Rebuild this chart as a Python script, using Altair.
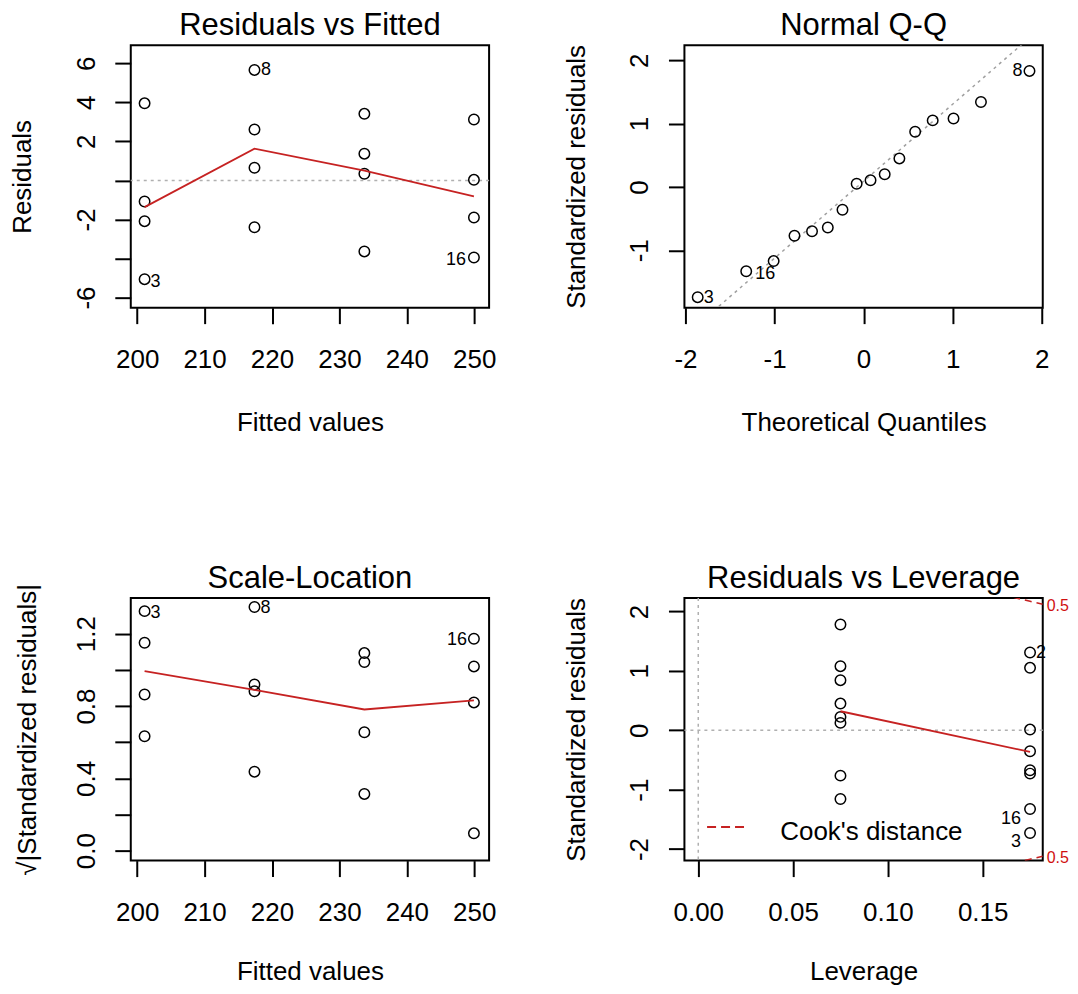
import altair as alt
import pandas as pd

FONT = "Liberation Sans"
W, H = 359, 263
RED = "#c62222"
GREY = "#b0b0b0"

# ---------------- data ----------------
# Residuals vs Fitted
rvf_fitted = [201.1, 201.1, 201.1, 201.1,
              217.4, 217.4, 217.4, 217.4,
              233.7, 233.7, 233.7, 233.7,
              249.95, 249.95, 249.95, 249.95]
rvf_resid = [3.95, -1.08, -2.09, -5.06,
             5.66, 2.61, 0.65, -2.40,
             3.41, 1.37, 0.34, -3.64,
             3.12, 0.03, -1.90, -3.95]
rvf_smooth_x = [201.1, 217.4, 233.7, 249.95]
rvf_smooth_y = [-1.37, 1.63, 0.50, -0.82]
rvf_label_idx = [3, 4, 15]
rvf_label_txt = ["3", "8", "16"]

# Normal Q-Q
qq_theoretical = [-1.863, -1.318, -1.010, -0.776, -0.579, -0.402, -0.237, -0.078,
                  0.078, 0.237, 0.402, 0.579, 0.776, 1.010, 1.318, 1.863]
qq_std_resid = [-1.74, -1.33, -1.17, -0.77, -0.70, -0.64, -0.36, 0.05,
                0.105, 0.20, 0.45, 0.87, 1.05, 1.08, 1.34, 1.83]
qq_line_x = [-2.1, 2.1]
qq_line_y = [-2.46, 2.64]
qq_label_idx = [0, 1, 15]
qq_label_txt = ["3", "16", "8"]

# Scale-Location
sl_fitted = rvf_fitted
sl_sqrt_std = [1.325, 1.150, 0.864, 0.633,
               1.348, 0.919, 0.882, 0.437,
               1.093, 1.043, 0.655, 0.314,
               1.172, 1.019, 0.820, 0.096]
sl_smooth_x = [201.1, 217.4, 233.7, 249.95]
sl_smooth_y = [0.993, 0.890, 0.781, 0.831]
sl_label_idx = [0, 4, 12]
sl_label_txt = ["3", "8", "16"]

# Residuals vs Leverage
lev_h = [0.075, 0.075, 0.075, 0.075, 0.075, 0.075, 0.075, 0.075,
         0.175, 0.175, 0.175, 0.175, 0.175, 0.175, 0.175, 0.175]
lev_std = [1.781, 1.079, 0.843, 0.449, 0.225, 0.124, -0.764, -1.157,
           1.309, 1.051, 0.011, -0.354, -0.674, -0.730, -1.326, -1.730]
lev_smooth_x = [0.075, 0.175]
lev_smooth_y = [0.32, -0.365]
lev_label_idx = [8, 14, 15]
lev_label_txt = ["2", "16", "3"]
cook_h = [0.160, 0.165, 0.170, 0.175, 0.1817]
cook_upper = [2.291, 2.250, 2.210, 2.171, 2.122]
cook_lower = [-2.291, -2.250, -2.210, -2.171, -2.122]
cook_level_label = "0.5"
legend_text = "Cook's distance"

panel_titles = ["Residuals vs Fitted", "Normal Q-Q", "Scale-Location", "Residuals vs Leverage"]

# ---------------- helpers ----------------
def xaxis(title, values, label_expr, title_y):
    return alt.Axis(title=title, values=values, labelExpr=label_expr,
                    domain=False, grid=False, ticks=True, tickSize=16, tickWidth=2,
                    tickColor="black", labelFont=FONT, labelFontSize=26, labelColor="black",
                    labelPadding=23, labelFlush=False, labelOverlap=False, labelAngle=0,
                    labelAlign="center", labelBaseline="top",
                    titleFont=FONT, titleFontSize=26, titleFontWeight="normal",
                    titleColor="black", titleX=W / 2, titleY=title_y, titleAlign="center",
                    titleBaseline="top", titleAngle=0)


def yaxis(title, values, label_expr, title_x=-108.5):
    return alt.Axis(title=title, values=values, labelExpr=label_expr,
                    domain=False, grid=False, ticks=True, tickSize=16, tickWidth=2,
                    tickColor="black", labelFont=FONT, labelFontSize=26, labelColor="black",
                    labelPadding=28.5, labelFlush=False, labelOverlap=False, labelAngle=270,
                    labelAlign="center", labelBaseline="middle",
                    titleFont=FONT, titleFontSize=26, titleFontWeight="normal",
                    titleColor="black", titleX=title_x, titleY=H / 2, titleAlign="center",
                    titleBaseline="middle", titleAngle=270)


def enc(xdom, ydom, xax, yax):
    return dict(
        x=alt.X("x:Q", scale=alt.Scale(domain=xdom, nice=False, zero=False), axis=xax),
        y=alt.Y("y:Q", scale=alt.Scale(domain=ydom, nice=False, zero=False), axis=yax),
    )


def title_mark(t):
    return alt.Chart(pd.DataFrame({"t": [t]})).mark_text(
        font=FONT, fontSize=31, color="black", align="center", baseline="alphabetic"
    ).encode(text="t:N", x=alt.value(W / 2), y=alt.value(-10.5))


def points(xs, ys, e):
    df = pd.DataFrame({"x": xs, "y": ys})
    return alt.Chart(df).mark_point(shape="circle", filled=False, size=110,
                                    strokeWidth=1.5, color="black", opacity=1).encode(**e)


def smooth(xs, ys, e):
    df = pd.DataFrame({"x": xs, "y": ys})
    return alt.Chart(df).mark_line(color=RED, strokeWidth=1.8).encode(**e)


def labels(xs, ys, idx, txt, styles, e):
    out = []
    for i, t, (dx, dy, align) in zip(idx, txt, styles):
        df = pd.DataFrame({"x": [xs[i]], "y": [ys[i]], "t": [t]})
        out.append(alt.Chart(df).mark_text(font=FONT, fontSize=18, color="black",
                                           align=align, baseline="middle", dx=dx, dy=dy)
                   .encode(text="t:N", **e))
    return out


def hline(e, val=0):
    return alt.Chart(pd.DataFrame({"y": [val]})).mark_rule(
        color=GREY, strokeWidth=1.5, strokeDash=[3, 4]).encode(y=e["y"])


def vline(e, val=0):
    return alt.Chart(pd.DataFrame({"x": [val]})).mark_rule(
        color=GREY, strokeWidth=1.5, strokeDash=[3, 4]).encode(x=e["x"])


to_str = "'' + datum.value"
TOP_TITLE_Y = 102.1
BOTTOM_TITLE_Y = 98.5

# ---------------- Panel 1: Residuals vs Fitted ----------------
e1 = enc([199.05, 252.2], [-6.52, 6.93],
         xaxis("Fitted values", [200, 210, 220, 230, 240, 250], to_str, TOP_TITLE_Y),
         yaxis("Residuals", [-6, -4, -2, 0, 2, 4, 6],
               "datum.value == 0 || datum.value == -4 ? '' : '' + datum.value"))
p1 = alt.layer(
    hline(e1),
    points(rvf_fitted, rvf_resid, e1),
    smooth(rvf_smooth_x, rvf_smooth_y, e1),
    *labels(rvf_fitted, rvf_resid, rvf_label_idx, rvf_label_txt,
            [(6, 3, "left"), (6.5, 0.5, "left"), (-8, 3, "right")], e1),
    title_mark(panel_titles[0]),
).properties(width=W, height=H)

# ---------------- Panel 2: Normal Q-Q ----------------
e2 = enc([-2.012, 2.012], [-1.905, 2.237],
         xaxis("Theoretical Quantiles", [-2, -1, 0, 1, 2], to_str, TOP_TITLE_Y),
         yaxis("Standardized residuals", [-1, 0, 1, 2], to_str))
qq_line = alt.Chart(pd.DataFrame({"x": qq_line_x, "y": qq_line_y})).mark_line(
    color="#a0a0a0", strokeWidth=1.5, strokeDash=[3, 4], clip=True).encode(**e2)
p2 = alt.layer(
    qq_line,
    points(qq_theoretical, qq_std_resid, e2),
    *labels(qq_theoretical, qq_std_resid, qq_label_idx, qq_label_txt,
            [(6, 0.5, "left"), (9, 3, "left"), (-7, 0, "right")], e2),
    title_mark(panel_titles[1]),
).properties(width=W, height=H)

# ---------------- Panel 3: Scale-Location ----------------
e3 = enc([199.05, 252.2], [-0.055, 1.397],
         xaxis("Fitted values", [200, 210, 220, 230, 240, 250], to_str, BOTTOM_TITLE_Y),
         yaxis("√|Standardized residuals|", [0, 0.2, 0.4, 0.6, 0.8, 1.0, 1.2],
               "datum.value == 0.2 || datum.value == 0.6 || datum.value == 1 ? '' : format(datum.value, '.1f')",
               title_x=-103.5))
p3 = alt.layer(
    points(sl_fitted, sl_sqrt_std, e3),
    smooth(sl_smooth_x, sl_smooth_y, e3),
    *labels(sl_fitted, sl_sqrt_std, sl_label_idx, sl_label_txt,
            [(6, 2, "left"), (6, 1, "left"), (-7, 1.5, "right")], e3),
    title_mark(panel_titles[2]),
).properties(width=W, height=H)

# ---------------- Panel 4: Residuals vs Leverage ----------------
e4 = enc([-0.0073, 0.1817], [-2.195, 2.225],
         xaxis("Leverage", [0, 0.05, 0.10, 0.15], "format(datum.value, '.2f')", BOTTOM_TITLE_Y),
         yaxis("Standardized residuals", [-2, -1, 0, 1, 2], to_str))
cook_df = pd.DataFrame({
    "x": cook_h + cook_h,
    "y": cook_upper + cook_lower,
    "side": ["upper"] * len(cook_h) + ["lower"] * len(cook_h),
})
cook = alt.Chart(cook_df).mark_line(color=RED, strokeWidth=1.6, strokeDash=[7, 5],
                                    clip=True).encode(detail="side:N", **e4)
cook_txt_df = pd.DataFrame({"x": [cook_h[-1], cook_h[-1]],
                            "y": [cook_upper[-1], cook_lower[-1]],
                            "t": [cook_level_label, cook_level_label]})
cook_txt = alt.Chart(cook_txt_df).mark_text(font=FONT, fontSize=16, color="#d01010",
                                            align="left", baseline="middle", dx=4,
                                            dy=2).encode(text="t:N", **e4)
legend_line = alt.Chart(pd.DataFrame({"k": [1]})).mark_rule(
    color=RED, strokeWidth=2, strokeDash=[9, 5]).encode(
    x=alt.value(22.7), x2=alt.value(64.3), y=alt.value(229.4))
legend_lab = alt.Chart(pd.DataFrame({"t": [legend_text]})).mark_text(
    font=FONT, fontSize=26, color="black", align="left", baseline="middle").encode(
    text="t:N", x=alt.value(96), y=alt.value(234))
p4 = alt.layer(
    hline(e4), vline(e4),
    points(lev_h, lev_std, e4),
    smooth(lev_smooth_x, lev_smooth_y, e4),
    cook, cook_txt, legend_line, legend_lab,
    *labels(lev_h, lev_std, lev_label_idx, lev_label_txt,
            [(6, 0.5, "left"), (-9, 10, "right"), (-9, 9.5, "right")], e4),
    title_mark(panel_titles[3]),
).properties(width=W, height=H)

chart = alt.concat(
    p1, p2, p3, p4, columns=2,
    spacing={"row": 291, "column": 195.7},
    bounds="flush",
    padding={"left": 0, "top": -0.7, "right": 0, "bottom": 0},
).configure(font=FONT, background="white").configure_view(stroke="black", strokeWidth=2)

chart.save("out.html", embed_options={"renderer": "svg", "actions": False})
